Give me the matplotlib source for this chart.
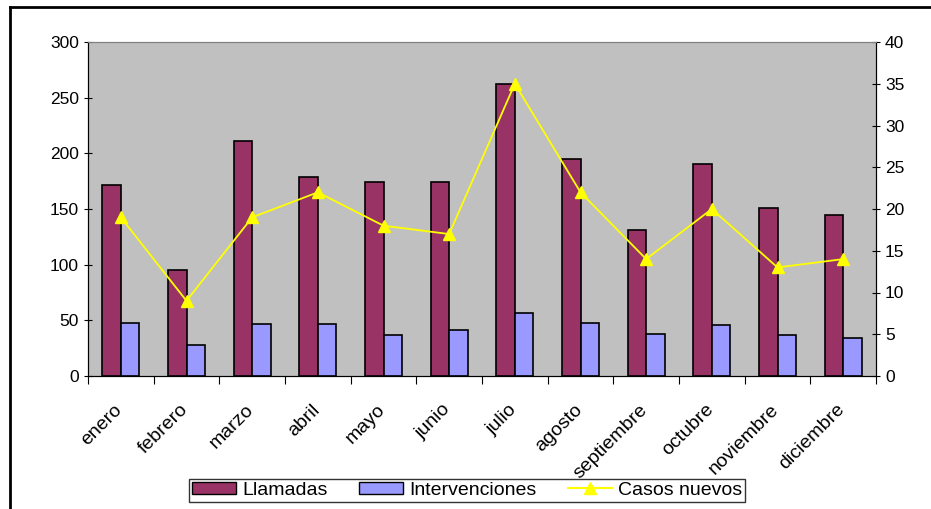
from matplotlib import pyplot as plt
from matplotlib.lines import Line2D
import matplotlib.transforms as mtransforms
import numpy as np

meses = ['enero', 'febrero', 'marzo', 'abril', 'mayo', 'junio', 'julio',
         'agosto', 'septiembre', 'octubre', 'noviembre', 'diciembre']
llamadas = [172, 95, 211, 179, 174, 174, 262, 195, 131, 190, 151, 145]
intervenciones = [48, 28, 47, 47, 37, 41, 57, 48, 38, 46, 37, 34]
casos_nuevos = [19, 9, 19, 22, 18, 17, 35, 22, 14, 20, 13, 14]

plt.rcParams['font.family'] = ['Liberation Sans', 'DejaVu Sans']

fig = plt.figure(figsize=(9.31, 5.09), dpi=100)
ax = fig.add_axes([88/931, 1-376/509, 788/931, 334/509])
ax2 = ax.twinx()

x = np.arange(len(meses))
w = 0.28
ax.bar(x - w/2, llamadas, w, color='#993366', edgecolor='black', linewidth=1.2,
       label='Llamadas', zorder=3)
ax.bar(x + w/2, intervenciones, w, color='#9999FF', edgecolor='black', linewidth=1.2,
       label='Intervenciones', zorder=3)
ax2.plot(x, casos_nuevos, color='#FFFF00', marker='^', markersize=9, linewidth=1.3,
         label='Casos nuevos')

ax.set_facecolor('#C0C0C0')
ax.set_xlim(-0.5, 11.5)
ax.set_ylim(0, 300)
ax2.set_ylim(0, 40)
ax.set_yticks(range(0, 301, 50))
ax2.set_yticks(range(0, 41, 5))
ax.set_xticks(np.arange(-0.5, 12, 1))
ax.set_xticklabels([])
ax.set_xticks(x, minor=True)
ax.set_xticklabels(meses, minor=True, rotation=45, ha='right', va='top',
                   rotation_mode='anchor', fontsize=14)
ax.tick_params(axis='x', which='minor', length=0, pad=18)
ax.tick_params(axis='x', which='major', length=6, direction='out')
ax.tick_params(axis='y', labelsize=12.5, length=6, direction='inout')
ax2.tick_params(axis='y', labelsize=12.5, length=6, direction='inout')

shift = mtransforms.ScaledTranslation(-7/100, 0, fig.dpi_scale_trans)
for lab in ax.get_xticklabels(minor=True):
    lab.set_transform(lab.get_transform() + shift)

for a in (ax, ax2):
    a.spines['top'].set_color('#808080')
    a.spines['left'].set_color('black')
    a.spines['right'].set_color('black')
    a.spines['bottom'].set_color('black')

handles = [plt.Rectangle((0, 0), 1, 1, facecolor='#993366', edgecolor='black'),
           plt.Rectangle((0, 0), 1, 1, facecolor='#9999FF', edgecolor='black'),
           Line2D([], [], color='#FFFF00', marker='^', markersize=9)]
leg = fig.legend(handles, ['Llamadas', 'Intervenciones', 'Casos nuevos'],
                 loc='upper center', bbox_to_anchor=(467/931, 1-479/509), ncol=3,
                 fontsize=14, frameon=True, fancybox=False, edgecolor='black',
                 handlelength=2.3, handleheight=0.6, handletextpad=0.3,
                 columnspacing=1.6, borderpad=0.15, borderaxespad=0)
leg.get_frame().set_linewidth(1.0)

# outer chart frame (left and top edges visible)
fig.add_artist(Line2D([10/931, 10/931], [0, 1-7/509], color='black', linewidth=2,
                      transform=fig.transFigure))
fig.add_artist(Line2D([10/931, 1], [1-7/509, 1-7/509], color='black', linewidth=2,
                      transform=fig.transFigure))

fig.savefig('out.png', dpi=100)
